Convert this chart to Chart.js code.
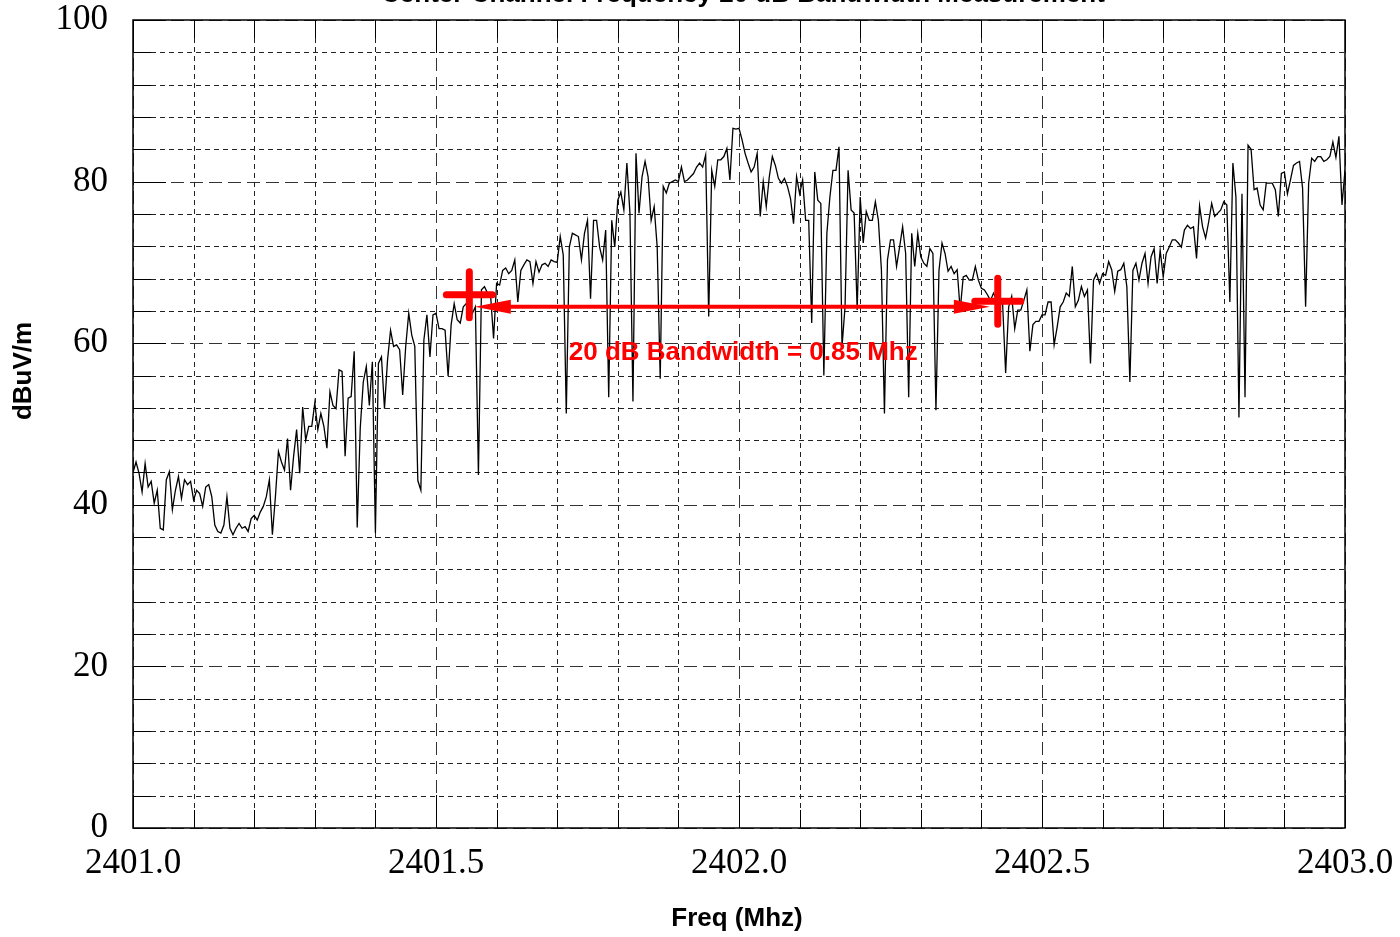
<!DOCTYPE html>
<html><head><meta charset="utf-8">
<script src="https://cdn.jsdelivr.net/npm/chart.js@4.4.1/dist/chart.umd.min.js"></script>
<style>html,body{margin:0;padding:0;background:#fff;}#wrap{width:1400px;height:937px;}</style>
</head><body><div id="wrap"><canvas id="c" width="1400" height="937"></canvas></div>
<script>
// ---- text ----
const chartTitle = "Center Channel Frequency 20 dB Bandwidth Measurement";
const xAxisTitle = "Freq (Mhz)";
const yAxisTitle = "dBuV/m";
const bandwidthLabel = "20 dB Bandwidth = 0.85 Mhz";

// ---- sweep (x categories) ----
const sweepStartMHz = 2401.0;
const sweepStepMHz = 0.005;

// ---- measured level, dBuV/m (one value per sweep point) ----
const levels = [
44.0,45.3,43.9,41.6,45.1,42.2,42.9,40.2,41.8,37.1,
36.9,43.1,44.1,39.4,41.8,43.5,40.8,43.1,42.5,42.9,
40.6,41.8,41.4,39.8,42.2,42.5,41.0,37.5,36.7,36.5,
37.5,41.0,37.1,36.3,37.1,37.7,37.1,37.3,36.7,38.3,
38.7,38.1,39.1,39.8,41.0,43.1,36.3,41.0,46.6,45.3,
44.3,48.2,41.8,46.0,49.3,43.9,52.1,48.0,49.7,49.7,
52.6,49.3,51.3,49.7,47.0,54.0,52.3,51.9,56.7,56.5,
46.0,53.2,53.4,59.0,37.2,49.5,55.2,57.1,52.3,57.7,
36.5,57.5,58.3,51.9,57.9,61.6,59.6,59.8,59.2,53.6,
59.6,63.7,61.0,59.6,43.0,41.8,60.4,63.5,58.3,63.5,
63.7,61.8,61.8,61.6,55.9,62.3,64.9,62.9,62.5,64.5,
64.9,64.7,63.7,64.5,43.7,66.6,67.0,66.2,66.0,60.6,
67.4,67.2,69.0,69.3,68.6,69.0,70.3,65.1,69.0,69.7,
70.3,70.1,67.4,70.1,68.8,69.7,69.9,69.5,70.3,70.1,
70.0,73.2,70.9,51.3,71.9,73.6,73.4,73.2,70.3,73.6,
75.2,65.5,75.2,75.2,71.9,70.3,74.0,53.3,75.2,71.9,
77.7,78.7,76.5,82.3,76.1,52.8,83.5,76.1,80.6,82.5,
80.6,75.2,76.9,71.9,55.6,79.4,78.6,79.8,80.0,80.2,
80.0,81.8,80.0,80.2,80.6,81.0,81.8,82.3,81.8,83.3,
63.3,81.4,79.4,82.7,82.7,83.1,84.1,80.2,86.6,86.5,
86.6,85.2,83.5,82.3,81.2,81.8,83.5,75.7,80.0,76.9,
80.6,83.1,82.0,80.4,79.8,80.4,79.4,77.9,74.8,80.6,
78.5,80.2,75.2,75.2,62.5,81.2,77.7,77.3,56.0,73.6,
78.1,81.4,81.4,84.3,59.6,64.5,81.4,76.5,76.1,64.1,
78.1,72.4,76.3,75.2,75.2,77.5,75.2,69.1,51.3,70.3,
72.8,72.8,69.5,71.9,74.4,71.1,53.3,73.6,69.5,73.6,
70.7,69.9,69.5,71.7,71.1,51.7,69.0,72.4,71.1,68.9,
69.5,68.6,69.1,64.1,68.2,68.4,67.8,67.8,69.5,67.8,
66.8,66.6,66.0,65.3,66.2,65.3,65.5,64.9,56.3,64.5,
65.8,61.8,64.1,64.1,65.3,66.6,59.0,62.3,62.7,62.7,
63.5,63.5,65.1,65.1,59.8,62.0,64.5,65.1,66.2,65.8,
69.5,64.5,65.3,67.0,65.8,66.6,57.5,67.8,68.6,67.4,
68.6,68.4,70.1,69.1,66.4,68.9,69.1,69.9,67.0,55.2,
69.0,69.9,67.8,69.9,71.1,67.4,70.7,71.7,67.4,71.5,
68.2,71.1,71.9,72.8,72.8,72.4,71.9,74.0,74.6,74.2,
74.4,70.5,77.0,74.4,73.0,75.0,77.3,75.7,76.1,76.5,
77.5,77.1,65.1,82.3,78.1,50.8,78.5,53.3,84.5,84.0,
79.0,79.2,77.1,76.5,79.8,79.8,79.8,79.0,75.7,81.0,
81.2,78.5,80.2,82.0,82.3,82.5,79.2,64.5,79.8,82.9,
82.5,83.1,83.1,82.5,82.7,83.1,84.9,83.0,85.6,77.1,
81.4
];

// ---- axes ----
const xTickValues = [2401.0, 2401.5, 2402.0, 2402.5, 2403.0];
const xTickLabels = ["2401.0", "2401.5", "2402.0", "2402.5", "2403.0"];
const yTickValues = [0, 20, 40, 60, 80, 100];
const yTickLabels = ["0", "20", "40", "60", "80", "100"];
const xMinorStep = 0.1;
const yMinorStep = 4;

// ---- 20 dB bandwidth markers ----
const markerFreqs = [2401.555, 2402.427];
const markerLevels = [66.0, 65.2];
const arrowFreqs = [2401.564, 2402.414];
const arrowLevel = 64.5;
const labelFreq = 2402.007;
const labelLevel = 58.8;

const points = levels.map((v, i) => ({ x: sweepStartMHz + i * sweepStepMHz, y: v }));

const RED = '#ff0000';
const SANS = '"Liberation Sans", Arial, sans-serif';
const SERIF = '"Liberation Serif", "Times New Roman", serif';

const decor = {
  id: 'decor',
  beforeDatasetsDraw(chart) {
    const { ctx, chartArea: a, scales: { x, y } } = chart;
    ctx.save();
    ctx.lineWidth = 1;
    for (let v = 0; v <= 100 + 1e-9; v += yMinorStep) {
      const major = Math.abs(v % 20) < 1e-6;
      const py = Math.round(y.getPixelForValue(v)) + 0.5;
      ctx.setLineDash(major ? [13, 6] : [5, 4]);
      ctx.strokeStyle = major ? '#333' : '#222';
      ctx.beginPath(); ctx.moveTo(a.left, py); ctx.lineTo(a.right, py); ctx.stroke();
      ctx.setLineDash([]);
      ctx.strokeStyle = '#000';
      ctx.beginPath(); ctx.moveTo(a.left, py); ctx.lineTo(a.left + (major ? 33 : 18), py); ctx.stroke();
    }
    const n = Math.round((2403 - 2401) / xMinorStep);
    for (let k = 0; k <= n; k++) {
      const v = 2401 + k * xMinorStep;
      const major = k % 5 === 0;
      const px = Math.round(x.getPixelForValue(v)) + 0.5;
      ctx.setLineDash(major ? [13, 6] : [5, 4]);
      ctx.strokeStyle = major ? '#333' : '#222';
      ctx.beginPath(); ctx.moveTo(px, a.top); ctx.lineTo(px, a.bottom); ctx.stroke();
      ctx.setLineDash([]);
      ctx.strokeStyle = '#000';
      const tl = major ? 33 : 18;
      ctx.beginPath(); ctx.moveTo(px, a.bottom); ctx.lineTo(px, a.bottom - tl); ctx.stroke();
      ctx.beginPath(); ctx.moveTo(px, a.top); ctx.lineTo(px, a.top + tl); ctx.stroke();
    }
    ctx.restore();
  },
  afterDatasetsDraw(chart) {
    const { ctx, chartArea: a, scales: { x, y } } = chart;
    ctx.save();
    ctx.strokeStyle = '#000';
    ctx.lineWidth = 1.5;
    ctx.strokeRect(a.left, a.top, a.right - a.left, a.bottom - a.top);

    ctx.strokeStyle = RED;
    ctx.lineWidth = 7;
    ctx.lineCap = 'round';
    markerFreqs.forEach((f, i) => {
      const cx = x.getPixelForValue(f), cy = y.getPixelForValue(markerLevels[i]);
      ctx.beginPath();
      ctx.moveTo(cx - 23, cy); ctx.lineTo(cx + 23, cy);
      ctx.moveTo(cx, cy - 23); ctx.lineTo(cx, cy + 23);
      ctx.stroke();
    });
    const x1 = x.getPixelForValue(arrowFreqs[0]);
    const x2 = x.getPixelForValue(arrowFreqs[1]);
    const ay = y.getPixelForValue(arrowLevel);
    const headL = 36, headW = 7;
    ctx.lineCap = 'butt';
    ctx.lineWidth = 4;
    ctx.beginPath(); ctx.moveTo(x1 + headL - 2, ay); ctx.lineTo(x2 - headL + 2, ay); ctx.stroke();
    ctx.fillStyle = RED;
    ctx.beginPath(); ctx.moveTo(x1, ay); ctx.lineTo(x1 + headL, ay - headW); ctx.lineTo(x1 + headL, ay + headW); ctx.closePath(); ctx.fill();
    ctx.beginPath(); ctx.moveTo(x2, ay); ctx.lineTo(x2 - headL, ay - headW); ctx.lineTo(x2 - headL, ay + headW); ctx.closePath(); ctx.fill();
    ctx.font = 'bold 26px ' + SANS;
    ctx.textAlign = 'center';
    ctx.textBaseline = 'middle';
    ctx.fillText(bandwidthLabel, x.getPixelForValue(labelFreq), y.getPixelForValue(labelLevel));

    ctx.fillStyle = '#000';
    ctx.font = 'bold 26px ' + SANS;
    ctx.textBaseline = 'middle';
    ctx.fillText(xAxisTitle, (a.left + a.right) / 2 - 2, 919);
    ctx.save();
    ctx.translate(24, 371);
    ctx.rotate(-Math.PI / 2);
    ctx.fillText(yAxisTitle, 0, 0);
    ctx.restore();
    // chart title: mostly above the canvas edge, as in the source
    ctx.font = 'bold 26px ' + SANS;
    ctx.textBaseline = 'alphabetic';
    ctx.fillText(chartTitle, 743, 1.5);
    ctx.restore();
  }
};

new Chart(document.getElementById('c'), {
  type: 'line',
  data: {
    datasets: [{
      data: points,
      borderColor: '#000',
      borderWidth: 1.3,
      pointRadius: 0,
      tension: 0,
      fill: false
    }]
  },
  options: {
    responsive: false,
    animation: false,
    devicePixelRatio: 1,
    layout: { padding: { top: 20, right: 55, left: 0, bottom: 0 } },
    plugins: { legend: { display: false }, tooltip: { enabled: false }, title: { display: false } },
    scales: {
      x: {
        type: 'linear', min: 2401, max: 2403,
        afterBuildTicks: s => { s.ticks = xTickValues.map(v => ({ value: v })); },
        afterFit: s => { s.height = 109; s.paddingLeft = 0; s.paddingRight = 0; },
        grid: { display: false, drawTicks: false }, border: { display: false },
        ticks: { color: '#000', font: { family: SERIF, size: 35 }, padding: 15, maxRotation: 0, autoSkip: false,
                 callback: (v, i) => xTickLabels[i] }
      },
      y: {
        type: 'linear', min: 0, max: 100,
        afterBuildTicks: s => { s.ticks = yTickValues.map(v => ({ value: v })); },
        afterFit: s => { s.width = 133; s.paddingTop = 0; s.paddingBottom = 0; },
        grid: { display: false, drawTicks: false }, border: { display: false },
        ticks: { color: '#000', font: { family: SERIF, size: 35 }, padding: 25, autoSkip: false,
                 callback: (v, i) => yTickLabels[i] }
      }
    }
  },
  plugins: [decor]
});
</script>
</body></html>
